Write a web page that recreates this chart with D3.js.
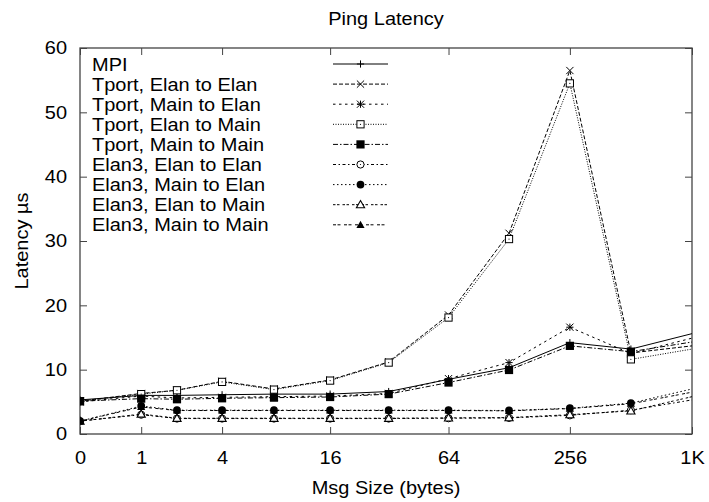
<!DOCTYPE html>
<html>
<head>
<meta charset="utf-8">
<script src="https://cdn.jsdelivr.net/npm/d3@7"></script>
<style>
  html, body { margin: 0; padding: 0; background: #fff; }
  svg text { font-family: "Liberation Sans", Arial, Helvetica, sans-serif; fill: #000; }
</style>
</head>
<body>
<svg id="chart" width="709" height="502"></svg>
<script>
// Message sizes in bytes (last size lies beyond the plotted range and is clipped)
const sizes = [0, 1, 2, 4, 8, 16, 32, 64, 128, 256, 512, 2048];

// Latency in microseconds for each transport
const mpi           = [5.3, 6.0, 6.0, 6.1, 6.2, 6.2, 6.6, 8.5, 10.3, 14.2, 13.2, 18.0];
const tportElanElan = [5.1, 6.3, 6.8, 8.2, 7.0, 8.4, 11.2, 18.5, 31.2, 56.5, 12.6, 14.8];
const tportMainElan = [5.0, 5.9, 5.6, 5.7, 5.8, 5.9, 6.3, 8.6, 11.1, 16.6, 12.5, 17.3];
const tportElanMain = [5.1, 6.2, 6.8, 8.1, 6.9, 8.3, 11.1, 18.1, 30.3, 54.5, 11.6, 14.8];
const tportMainMain = [5.1, 5.5, 5.4, 5.55, 5.65, 5.75, 6.2, 8.0, 9.95, 13.7, 12.8, 15.8];
const elanElanElan  = [2.0, 3.0, 2.4, 2.4, 2.4, 2.4, 2.4, 2.45, 2.5, 2.9, 3.7, 6.9];
const elanMainElan  = [2.0, 4.35, 3.7, 3.7, 3.7, 3.7, 3.7, 3.7, 3.65, 4.0, 4.8, 9.2];
const elanElanMain  = [2.0, 3.1, 2.45, 2.45, 2.45, 2.45, 2.45, 2.5, 2.55, 3.0, 3.6, 8.0];
const elanMainMain  = [2.0, 4.2, 3.65, 3.65, 3.65, 3.65, 3.65, 3.65, 3.6, 3.95, 4.7, 8.3];

const seriesNames = [
  "MPI",
  "Tport, Elan to Elan",
  "Tport, Main to Elan",
  "Tport, Elan to Main",
  "Tport, Main to Main",
  "Elan3, Elan to Elan",
  "Elan3, Main to Elan",
  "Elan3, Elan to Main",
  "Elan3, Main to Main"
];
const seriesValues = [mpi, tportElanElan, tportMainElan, tportElanMain, tportMainMain,
                      elanElanElan, elanMainElan, elanElanMain, elanMainMain];

const xTicks = [0, 1, 4, 16, 64, 256, 1024];
const xTickLabels = ["0", "1", "4", "16", "64", "256", "1K"];
const yTicks = [0, 10, 20, 30, 40, 50, 60];

// Line dash patterns and point symbols, one per series
const dashes = [null, "4,2", "2.5,3.5", "1,1.5", "5,2,1.5,2", "3,2.5,1.5,2.5",
                "1.5,2.5", "2.5,1.5,2.5,3", "3,1.5,3,3.5"];
const symbols = ["plus", "cross", "star", "square", "squareFill",
                 "circle", "circleFill", "triangle", "triangleFill"];

const W = 709, H = 502;
const m = { left: 80, right: 692, top: 48, bottom: 434 };
const FS = 18.5, SX = 1.08;   // font size and horizontal text stretch

const svg = d3.select("#chart");

const x = d3.scaleSymlog().constant(1).domain([0, 1024]).range([m.left, m.right]);
const y = d3.scaleLinear().domain([0, 60]).range([m.bottom, m.top]);

svg.append("defs").append("clipPath").attr("id", "plotClip")
  .append("rect")
  .attr("x", m.left).attr("y", m.top)
  .attr("width", m.right - m.left).attr("height", m.bottom - m.top);

function styleAxis(g, labels) {
  g.select(".domain").remove();
  g.selectAll(".tick line").attr("stroke", "#444").attr("stroke-width", 1);
  if (!labels) g.selectAll(".tick text").remove();
  else g.selectAll(".tick text")
        .attr("font-size", FS)
        .attr("font-family", "Liberation Sans, Arial, sans-serif")
        .attr("fill", "#000");
}

// Axes with inward ticks on all four sides
const TK = 7;
const gxB = svg.append("g").attr("transform", `translate(0,${m.bottom})`)
  .call(d3.axisBottom(x).tickValues(xTicks).tickFormat((d, i) => xTickLabels[i])
        .tickSizeInner(-TK).tickSizeOuter(0).tickPadding(17));
styleAxis(gxB, true);
gxB.selectAll(".tick text").attr("transform", `scale(${SX},1)`);

const gxT = svg.append("g").attr("transform", `translate(0,${m.top})`)
  .call(d3.axisTop(x).tickValues(xTicks).tickSizeInner(-TK).tickSizeOuter(0));
styleAxis(gxT, false);

const gyL = svg.append("g").attr("transform", `translate(${m.left},0)`)
  .call(d3.axisLeft(y).tickValues(yTicks).tickSizeInner(-TK).tickSizeOuter(0).tickPadding(12));
styleAxis(gyL, true);
gyL.selectAll(".tick text").attr("transform", `scale(${SX},1)`);

const gyR = svg.append("g").attr("transform", `translate(${m.right},0)`)
  .call(d3.axisRight(y).tickValues(yTicks).tickSizeInner(-TK).tickSizeOuter(0));
styleAxis(gyR, false);

// Frame
svg.append("rect")
  .attr("x", m.left).attr("y", m.top)
  .attr("width", m.right - m.left).attr("height", m.bottom - m.top)
  .attr("fill", "none").attr("stroke", "#444").attr("stroke-width", 1.3);

// Point symbol drawer
function drawSymbol(g, type, cx, cy) {
  const s = 3.6;
  const stroke = "#000";
  switch (type) {
    case "plus":
      g.append("path").attr("d", `M${cx - s},${cy}H${cx + s}M${cx},${cy - s}V${cy + s}`)
        .attr("stroke", stroke).attr("stroke-width", 1).attr("fill", "none");
      break;
    case "cross":
      g.append("path").attr("d", `M${cx - s},${cy - s}L${cx + s},${cy + s}M${cx - s},${cy + s}L${cx + s},${cy - s}`)
        .attr("stroke", stroke).attr("stroke-width", 1).attr("fill", "none");
      break;
    case "star":
      g.append("path").attr("d", `M${cx - s},${cy - s}L${cx + s},${cy + s}M${cx - s},${cy + s}L${cx + s},${cy - s}M${cx - s},${cy}H${cx + s}M${cx},${cy - s}V${cy + s}`)
        .attr("stroke", stroke).attr("stroke-width", 1).attr("fill", "none");
      break;
    case "square":
      g.append("rect").attr("x", cx - s).attr("y", cy - s).attr("width", 2 * s).attr("height", 2 * s)
        .attr("fill", "#fff").attr("stroke", stroke).attr("stroke-width", 1);
      g.append("circle").attr("cx", cx).attr("cy", cy).attr("r", 0.6).attr("fill", stroke);
      break;
    case "squareFill":
      g.append("rect").attr("x", cx - s - 0.5).attr("y", cy - s - 0.5).attr("width", 2 * s + 1).attr("height", 2 * s + 1)
        .attr("fill", stroke);
      break;
    case "circle":
      g.append("circle").attr("cx", cx).attr("cy", cy).attr("r", s)
        .attr("fill", "#fff").attr("stroke", stroke).attr("stroke-width", 1);
      g.append("circle").attr("cx", cx).attr("cy", cy).attr("r", 0.6).attr("fill", stroke);
      break;
    case "circleFill":
      g.append("circle").attr("cx", cx).attr("cy", cy).attr("r", s + 0.3).attr("fill", stroke);
      break;
    case "triangle":
      g.append("path").attr("d", `M${cx},${cy - s - 0.5}L${cx + s + 0.5},${cy + s - 0.5}L${cx - s - 0.5},${cy + s - 0.5}Z`)
        .attr("fill", "#fff").attr("stroke", stroke).attr("stroke-width", 1.1);
      break;
    case "triangleFill":
      g.append("path").attr("d", `M${cx},${cy - s - 0.5}L${cx + s + 0.5},${cy + s - 0.5}L${cx - s - 0.5},${cy + s - 0.5}Z`)
        .attr("fill", stroke);
      break;
  }
}

// Series lines and points
const plot = svg.append("g").attr("clip-path", "url(#plotClip)");
const line = d3.line().x(d => x(d[0])).y(d => y(d[1]));

seriesValues.forEach((vals, i) => {
  const pts = sizes.map((s, j) => [s, vals[j]]);
  plot.append("path")
    .attr("d", line(pts))
    .attr("fill", "none")
    .attr("stroke", "#000")
    .attr("stroke-width", 1)
    .attr("stroke-dasharray", dashes[i]);
  const pg = plot.append("g");
  pts.forEach(p => drawSymbol(pg, symbols[i], x(p[0]), y(p[1])));
});

// Legend
const legX = 92, legY0 = 64, legDY = 20.1, sampleX1 = 333, sampleX2 = 388;
seriesNames.forEach((name, i) => {
  const cy = legY0 + i * legDY;
  svg.append("text")
    .attr("transform", `translate(${legX},${cy + 6.5}) scale(${SX},1)`)
    .attr("font-size", FS)
    .text(name);
  svg.append("line")
    .attr("x1", sampleX1).attr("x2", sampleX2).attr("y1", cy).attr("y2", cy)
    .attr("stroke", "#000").attr("stroke-width", 1)
    .attr("stroke-dasharray", dashes[i]);
  drawSymbol(svg.append("g"), symbols[i], (sampleX1 + sampleX2) / 2, cy);
});

// Title and axis titles
svg.append("text")
  .attr("transform", `translate(${(m.left + m.right) / 2},25) scale(${SX},1)`)
  .attr("text-anchor", "middle").attr("font-size", FS)
  .text("Ping Latency");

svg.append("text")
  .attr("transform", `translate(${(m.left + m.right) / 2},494) scale(${SX},1)`)
  .attr("text-anchor", "middle").attr("font-size", FS)
  .text("Msg Size (bytes)");

svg.append("text")
  .attr("transform", `translate(28,${(m.top + m.bottom) / 2}) rotate(-90) scale(${SX},1)`)
  .attr("text-anchor", "middle").attr("font-size", FS)
  .text("Latency µs");
</script>
</body>
</html>
